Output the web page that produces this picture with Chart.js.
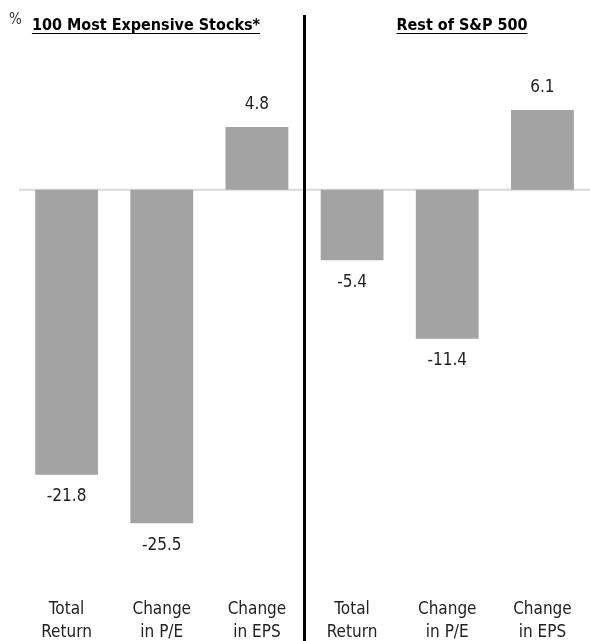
<!DOCTYPE html>
<html>
<head>
<meta charset="utf-8">
<script src="https://cdn.jsdelivr.net/npm/chart.js@4/dist/chart.umd.min.js"></script>
<style>
  html, body { margin: 0; padding: 0; background: #fff; }
  #wrap { width: 590px; height: 641px; position: relative; }
</style>
</head>
<body>
<div id="wrap"><canvas id="barChart"></canvas></div>
<script>
const categories = [
    ['Total', 'Return'], ['Change', 'in P/E'], ['Change', 'in EPS'],
    ['Total', 'Return'], ['Change', 'in P/E'], ['Change', 'in EPS']
];
const values = [-21.8, -25.5, 4.8, -5.4, -11.4, 6.1];
const groupTitles = ['100 Most Expensive Stocks*', 'Rest of S&P 500'];

const FONT = '"DejaVu Sans Condensed", "Open Sans", sans-serif';

// zero line, divider, titles and value labels
const extras = {
    id: 'extras',
    beforeDatasetsDraw(chart) {
        const { ctx, chartArea, scales } = chart;
        const y0 = scales.y.getPixelForValue(0);
        ctx.save();
        ctx.strokeStyle = '#d9d9d9';
        ctx.lineWidth = 2;
        ctx.beginPath();
        ctx.moveTo(chartArea.left, y0);
        ctx.lineTo(chartArea.right, y0);
        ctx.stroke();
        ctx.restore();
    },
    afterDatasetsDraw(chart) {
        const { ctx, scales } = chart;
        const meta = chart.getDatasetMeta(0);
        ctx.save();
        ctx.fillStyle = '#222';
        ctx.font = '17px ' + FONT;
        ctx.textAlign = 'center';
        ctx.textBaseline = 'middle';
        meta.data.forEach((bar, i) => {
            const v = values[i];
            const y = v >= 0 ? bar.y - 22 : bar.y + 22;
            ctx.fillText(v.toFixed(1), bar.x, y);
        });

        // divider between the two groups
        const xd = (scales.x.getPixelForValue(2) + scales.x.getPixelForValue(3)) / 2;
        ctx.strokeStyle = '#000';
        ctx.lineWidth = 3;
        ctx.beginPath();
        ctx.moveTo(xd, 15);
        ctx.lineTo(xd, chart.height);
        ctx.stroke();

        // group titles
        ctx.font = 'bold 16px ' + FONT;
        ctx.textBaseline = 'alphabetic';
        const centers = [146, 462];
        groupTitles.forEach((t, i) => {
            ctx.fillStyle = '#000';
            ctx.fillText(t, centers[i], 30);
            const w = ctx.measureText(t).width;
            ctx.strokeStyle = '#000';
            ctx.lineWidth = 1;
            ctx.beginPath();
            ctx.moveTo(centers[i] - w / 2, 33.5);
            ctx.lineTo(centers[i] + w / 2, 33.5);
            ctx.stroke();
        });
        ctx.font = '15px ' + FONT;
        ctx.fillStyle = '#333';
        ctx.textAlign = 'left';
        ctx.fillText('%', 9, 24);
        ctx.restore();
    }
};

new Chart(document.getElementById('barChart').getContext('2d'), {
    type: 'bar',
    data: {
        labels: categories,
        datasets: [{
            data: values,
            backgroundColor: '#a3a3a3',
            categoryPercentage: 1,
            barPercentage: 0.66
        }]
    },
    options: {
        responsive: true,
        maintainAspectRatio: false,
        animation: false,
        layout: { padding: { left: 19, right: 0, top: 59, bottom: 0 } },
        plugins: {
            legend: { display: false },
            tooltip: { enabled: false }
        },
        scales: {
            x: {
                grid: { display: false },
                border: { display: false },
                afterFit(scale) { scale.height = 59; },
                ticks: {
                    color: '#222',
                    font: { family: FONT, size: 17, lineHeight: 1.35 },
                    padding: 8,
                    maxRotation: 0
                }
            },
            y: {
                display: false,
                min: -30,
                max: 10
            }
        }
    },
    plugins: [extras]
});
</script>
</body>
</html>
